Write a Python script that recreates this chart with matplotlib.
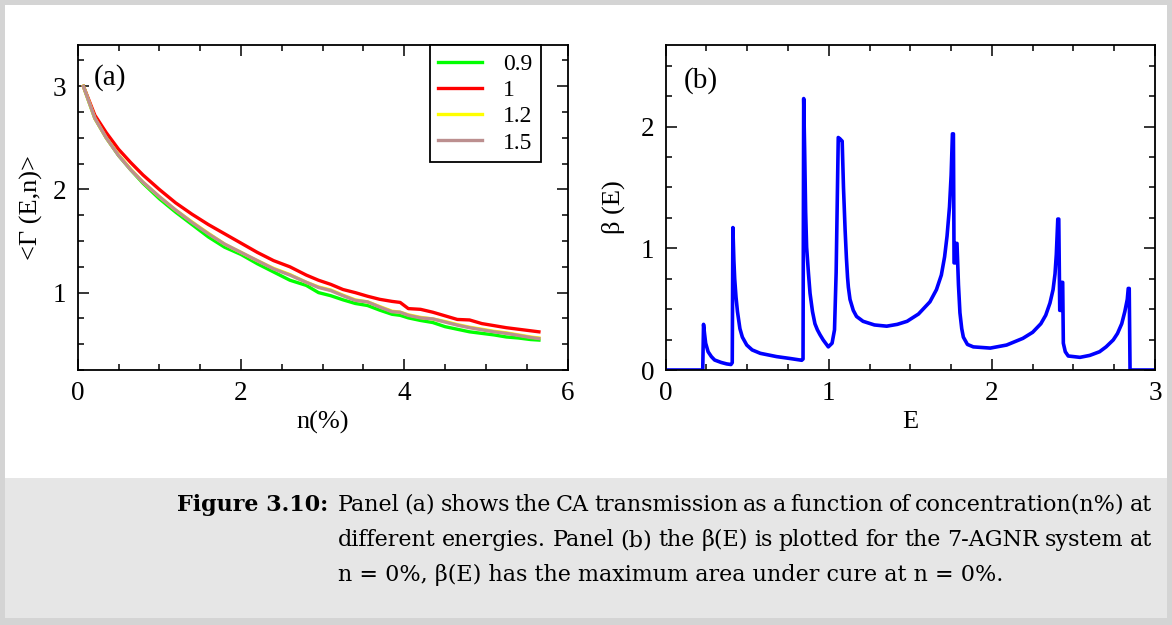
import matplotlib
matplotlib.use('Agg')
import matplotlib.pyplot as plt
from matplotlib.ticker import MultipleLocator
from matplotlib.patches import Rectangle

plt.rcParams['font.family'] = 'Liberation Serif'

# panel (a): <Gamma(E,n)> vs n(%) for several energies
n_pct = [0.07, 0.21, 0.35, 0.5, 0.65, 0.8, 1.0, 1.2, 1.4, 1.6, 1.8, 2.0, 2.2, 2.4, 2.6, 2.8,
         2.95, 3.1, 3.25, 3.4, 3.55, 3.7, 3.85, 3.95, 4.05, 4.2, 4.35, 4.5, 4.65, 4.8, 4.95,
         5.1, 5.25, 5.4, 5.55, 5.65]
g_09 = [3.0, 2.69, 2.50, 2.33, 2.19, 2.06, 1.91, 1.78, 1.66, 1.54, 1.44, 1.37, 1.28, 1.20,
        1.12, 1.07, 1.00, 0.97, 0.93, 0.895, 0.875, 0.83, 0.79, 0.78, 0.755, 0.73, 0.71, 0.67,
        0.645, 0.62, 0.605, 0.59, 0.57, 0.56, 0.545, 0.54]
g_1 = [3.0, 2.72, 2.55, 2.39, 2.26, 2.14, 2.0, 1.87, 1.76, 1.66, 1.57, 1.48, 1.39, 1.31,
       1.25, 1.17, 1.12, 1.08, 1.03, 1.00, 0.965, 0.935, 0.915, 0.905, 0.845, 0.838, 0.81,
       0.775, 0.74, 0.735, 0.70, 0.68, 0.66, 0.645, 0.63, 0.62]
g_12 = [3.0, 2.69, 2.50, 2.335, 2.195, 2.07, 1.93, 1.80, 1.685, 1.575, 1.47, 1.39, 1.31,
        1.235, 1.175, 1.10, 1.055, 1.025, 0.975, 0.93, 0.91, 0.865, 0.82, 0.81, 0.785, 0.76,
        0.745, 0.72, 0.69, 0.665, 0.645, 0.625, 0.61, 0.59, 0.57, 0.56]
g_15 = [3.0, 2.69, 2.50, 2.33, 2.19, 2.07, 1.93, 1.80, 1.68, 1.57, 1.47, 1.39, 1.31, 1.23,
        1.17, 1.10, 1.05, 1.02, 0.97, 0.925, 0.91, 0.86, 0.815, 0.81, 0.78, 0.755, 0.745,
        0.715, 0.685, 0.66, 0.64, 0.62, 0.605, 0.585, 0.565, 0.555]

# panel (b): beta(E) at n = 0%
E = [0.0, 0.227, 0.232, 0.238, 0.245, 0.26, 0.28, 0.30, 0.34, 0.374, 0.40, 0.408,
     0.412, 0.418, 0.423, 0.431, 0.44, 0.455, 0.47, 0.497, 0.53, 0.58, 0.68, 0.76, 0.834,
     0.842, 0.846, 0.852, 0.858, 0.864, 0.875, 0.885, 0.90, 0.915, 0.93, 0.946, 0.966, 0.997,
     1.02, 1.035, 1.045, 1.052, 1.058, 1.068, 1.075, 1.082, 1.09, 1.10, 1.108, 1.115, 1.12,
     1.13, 1.15, 1.17, 1.21, 1.28, 1.355, 1.42, 1.48, 1.55, 1.62, 1.66, 1.69, 1.71, 1.725,
     1.74, 1.75, 1.758, 1.764, 1.768, 1.776, 1.78, 1.786, 1.795, 1.804, 1.815, 1.825, 1.85,
     1.886, 1.99, 2.09, 2.19, 2.25, 2.30, 2.33, 2.356, 2.375, 2.387, 2.395, 2.404, 2.410,
     2.416, 2.426, 2.428, 2.434, 2.438, 2.45, 2.468, 2.54, 2.60, 2.66, 2.70, 2.744, 2.77,
     2.796, 2.815, 2.83, 2.836, 2.842, 2.847, 3.0]
beta = [0, 0, 0.375, 0.3, 0.22, 0.15, 0.11, 0.082, 0.062, 0.05, 0.045, 0.06,
        1.17, 0.9, 0.75, 0.6, 0.48, 0.34, 0.27, 0.205, 0.165, 0.137, 0.11, 0.095, 0.08,
        0.09, 2.23, 1.8, 1.3, 1.01, 0.8, 0.63, 0.48, 0.38, 0.33, 0.29, 0.246, 0.19,
        0.22, 0.33, 0.8, 1.4, 1.91, 1.9, 1.89, 1.88, 1.5, 1.15, 0.92, 0.76, 0.68,
        0.58, 0.49, 0.44, 0.40, 0.37, 0.36, 0.375, 0.40, 0.46, 0.56, 0.66, 0.78, 0.93, 1.1,
        1.34, 1.6, 1.94, 1.94, 0.88, 0.88, 1.04, 1.04, 0.7, 0.47, 0.34, 0.27, 0.21,
        0.19, 0.18, 0.205, 0.26, 0.31, 0.38, 0.45, 0.55, 0.66, 0.79, 0.95, 1.24, 1.24,
        0.49, 0.49, 0.72, 0.72, 0.22, 0.15, 0.115, 0.104, 0.12, 0.15, 0.19, 0.247, 0.3,
        0.38, 0.48, 0.58, 0.67, 0.67, 0, 0]

W, H = 1172, 625
fig = plt.figure(figsize=(W / 100, H / 100), dpi=100)
fig.patch.set_facecolor('#d4d4d4')
# white plot area and grey caption box (behind the axes)
fig.patches.append(Rectangle((5 / W, 1 - 478 / H), 1162 / W, 473 / H, transform=fig.transFigure,
                             facecolor='white', edgecolor='none', zorder=-10))
fig.patches.append(Rectangle((5 / W, 1 - 618 / H), 1162 / W, 140 / H, transform=fig.transFigure,
                             facecolor='#e6e6e6', edgecolor='none', zorder=-10))

ax1 = fig.add_axes([77.7 / W, 1 - 370 / H, 489.8 / W, 325 / H])
ax2 = fig.add_axes([665.7 / W, 1 - 370 / H, 489.3 / W, 325 / H])

lw = 2.4
ax1.plot(n_pct, g_09, color='#00ff00', lw=lw, label='0.9')
ax1.plot(n_pct, g_1, color='#ff0000', lw=lw, label='1')
ax1.plot(n_pct, g_12, color='#ffff00', lw=lw, label='1.2')
ax1.plot(n_pct, g_15, color='#bc8f8f', lw=lw, label='1.5')
ax1.set_xlim(0, 6)
ax1.set_ylim(0.25, 3.4)
ax1.xaxis.set_major_locator(MultipleLocator(2))
ax1.xaxis.set_minor_locator(MultipleLocator(0.5))
ax1.yaxis.set_major_locator(MultipleLocator(1))
ax1.yaxis.set_minor_locator(MultipleLocator(0.25))
ax1.set_xlabel('n(%)', fontsize=19)
ax1.set_ylabel('<Γ (E,n)>', fontsize=19)
ax1.xaxis.set_label_coords(0.5, -0.125)
ax1.yaxis.set_label_coords(-0.07, 0.5)
ax1.text(0.066, 0.90, '(a)', transform=ax1.transAxes, fontsize=21, ha='center', va='center')
leg = ax1.legend(loc='upper right', bbox_to_anchor=(0.945, 1.0), borderaxespad=0,
                 fontsize=17, handlelength=1.85, handletextpad=0.9, labelspacing=0.2,
                 borderpad=0.35, fancybox=False, framealpha=1, edgecolor='black')
leg.get_frame().set_linewidth(1.3)

ax2.plot(E, beta, color='#0000ff', lw=2.6)
ax2.set_xlim(0, 3)
ax2.set_ylim(0, 2.67)
ax2.xaxis.set_major_locator(MultipleLocator(1))
ax2.xaxis.set_minor_locator(MultipleLocator(0.25))
ax2.yaxis.set_major_locator(MultipleLocator(1))
ax2.yaxis.set_minor_locator(MultipleLocator(0.25))
ax2.set_xlabel('E', fontsize=19)
ax2.set_ylabel('β (E)', fontsize=19)
ax2.xaxis.set_label_coords(0.5, -0.125)
ax2.yaxis.set_label_coords(-0.083, 0.5)
ax2.text(0.072, 0.892, '(b)', transform=ax2.transAxes, fontsize=21, ha='center', va='center')

for ax in (ax1, ax2):
    ax.tick_params(which='both', direction='in', top=True, right=True, labelsize=19.5, width=1.1)
    ax.tick_params(which='major', length=8, pad=8)
    ax.tick_params(which='minor', length=4.5)
    for s in ax.spines.values():
        s.set_linewidth(1.3)

# caption
cap = dict(family='DejaVu Serif', fontsize=16, va='baseline')
fig.text(328 / W, 1 - 511 / H, 'Figure 3.10:', ha='right', fontweight='bold', **cap)


def justify(line, x0, x1, y):
    words = line.split(' ')
    texts = [fig.text(0, y, w, ha='left', **cap) for w in words]
    r = fig.canvas.get_renderer()
    widths = [t.get_window_extent(r).width for t in texts]
    gap = (x1 - x0 - sum(widths)) / (len(words) - 1)
    x = x0
    for t, w in zip(texts, widths):
        t.set_x(x / W)
        x += w + gap


justify('Panel (a) shows the CA transmission as a function of concentration(n%) at',
        338, 1152, 1 - 511 / H)
justify('different energies. Panel (b) the β(E) is plotted for the 7-AGNR system at',
        338, 1152, 1 - 546 / H)
fig.text(338 / W, 1 - 581 / H, 'n = 0%, β(E) has the maximum area under cure at n = 0%.',
         ha='left', **cap)

fig.savefig('out.png', dpi=100, facecolor=fig.get_facecolor())
